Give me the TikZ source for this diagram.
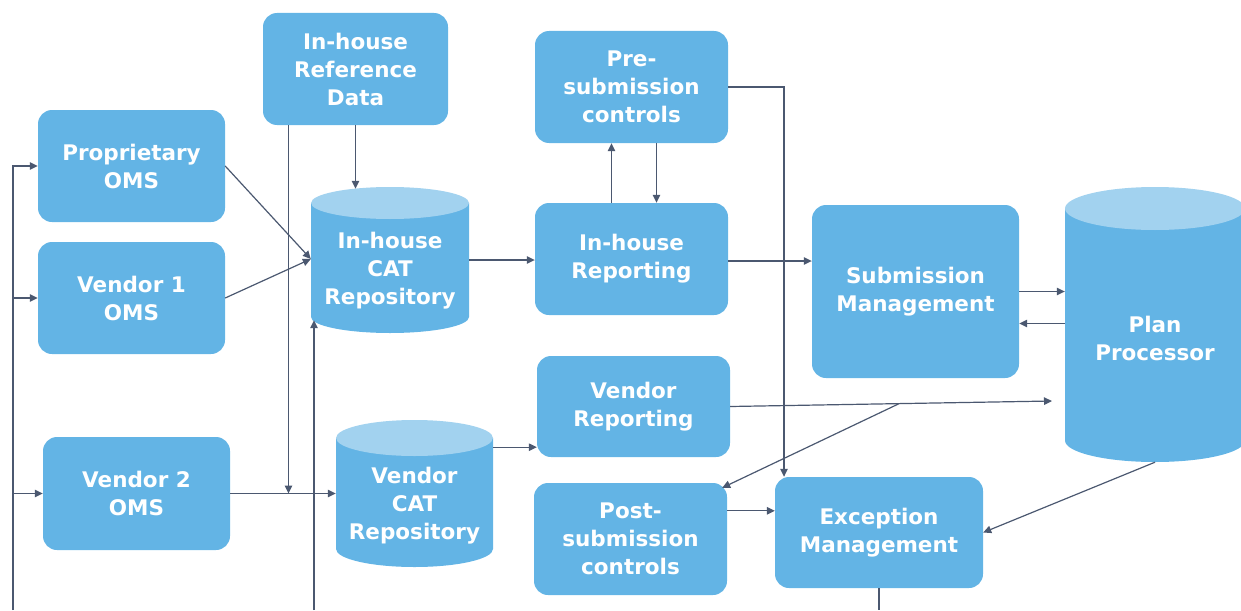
\documentclass[tikz,border=0pt]{standalone}
\usepackage{fontspec}
\setmainfont{DejaVu Sans}
\usepackage{xcolor}
\usepackage{tikz}
\usetikzlibrary{calc}
\usetikzlibrary{arrows.meta}

\definecolor{boxblue}{HTML}{63B4E5}
\definecolor{captop}{HTML}{A2D2EF}
\definecolor{wire}{HTML}{4B5870}

\begin{document}
\begin{tikzpicture}[x=1pt,y=-1pt]
% 1 = 1px of the sheet, y runs downwards
    \def\BOXW{187pt}
    \def\BOXH{112pt}
    \def\MIDW{193pt} %width of the middle column

    \tikzset{
      box/.style={fill=boxblue, rounded corners=14pt, text=white,
        align=center, inner sep=0pt,
        font=\fontsize{21.5}{28}\selectfont\bfseries},
      storetext/.style={text=white, align=center, inner sep=0pt,
        font=\fontsize{21.5}{28}\selectfont\bfseries},
      wirearrow/.style={draw=wire, line width=1.2pt,
        -{Triangle[length=8pt,width=7.5pt]}},
      wireline/.style={draw=wire, line width=1.2pt},
    }

    % STORAGE CYLINDER: name, centre x, top y, width, height, cap radius, text
    \def\storage#1#2#3#4#5#6#7{
      \fill[boxblue] ({#2-#4/2},{#3+#6}) -- ({#2-#4/2},{#3+#5-#6})
        arc[start angle=180, end angle=0, x radius=#4/2, y radius=#6]
        -- ({#2+#4/2},{#3+#6}) -- cycle;
      \fill[captop] (#2,{#3+#6}) ellipse [x radius=#4/2, y radius=#6];
      \node[storetext, minimum width=#4, minimum height={#5-#6}] (#1)
        at (#2,{#3+#6+(#5-#6)/2+3}) {#7};
    }

    \useasboundingbox (0,0) rectangle (1241,610);

    % LEFT COLUMN
    \node[box, minimum width=185pt, minimum height=\BOXH] (refdata)
        at (355.5,69) {In-house\\Reference\\Data};
    \node[box, minimum width=\BOXW, minimum height=\BOXH] (prop)
        at (131.5,166) {Proprietary\\OMS};
    \node[box, minimum width=\BOXW, minimum height=\BOXH] (vendone)
        at (131.5,298) {Vendor 1\\OMS};
    \node[box, minimum width=\BOXW, minimum height=113pt] (vendtwo)
        at (136.5,493.5) {Vendor 2\\OMS};

    % REPOSITORIES
    \storage{ihcat}{390}{187}{158}{146}{16}{In-house\\CAT\\Repository}
    \storage{vcat}{414.5}{420}{157}{147}{18}{Vendor\\CAT\\Repository}

    % MIDDLE COLUMN
    \node[box, minimum width=\MIDW, minimum height=\BOXH] (presub)
        at (631.5,87) {Pre-\\submission\\controls};
    \node[box, minimum width=\MIDW, minimum height=\BOXH] (ihrep)
        at (631.5,259) {In-house\\Reporting};
    \node[box, minimum width=\MIDW, minimum height=101pt] (vrep)
        at (633.5,406.5) {Vendor\\Reporting};
    \node[box, minimum width=\MIDW, minimum height=\BOXH] (postsub)
        at (630.5,539) {Post-\\submission\\controls};

    % RIGHT COLUMN
    \node[box, minimum width=207pt, minimum height=173pt] (subm)
        at (915.5,291.5) {Submission\\Management};
    \node[box, minimum width=208pt, minimum height=111pt] (excm)
        at (879,532.5) {Exception\\Management};
    \storage{planp}{1155}{187}{180}{275}{21.5}{Plan\\Processor}

    % loose ends and branch points
    \coordinate (bus) at (13,610);
    \coordinate (catfeed) at (314,610);
    \coordinate (excout) at (879,610);
    \coordinate (vreptip) at (1052,401);
    \coordinate (vsplit) at ($(vrep.east)!0.525!(vreptip)$);
    \coordinate (vrepin) at ($(vrep.south west)+(0,-10)$);
    \coordinate (excin) at ($(postsub.north east)+(0,28)$);
    \coordinate (catin) at ($(ihcat.west)+(0,-12)$);

    % FEED BUS ON THE LEFT
    \draw[wirearrow] (bus) |- (prop.west);
    \draw[wirearrow] (bus |- vendone.west) -- (vendone.west);
    \draw[wirearrow] (bus |- vendtwo.west) -- (vendtwo.west);

    % INTO THE IN-HOUSE REPOSITORY
    \draw[wirearrow] (prop.east) -- (catin);
    \draw[wirearrow] (vendone.east) -- (catin);
    \draw[wirearrow] (refdata.south) -- ($(refdata.south |- ihcat.north)+(0,-17)$);
    \draw[wirearrow] (catfeed) -- ($(catfeed |- ihcat.south)+(0,-16)$);

    % INTO THE VENDOR REPOSITORY
    \draw[wirearrow] ([xshift=-67pt]refdata.south)
        -- ([xshift=-67pt]refdata.south |- vendtwo.east);
    \draw[wirearrow] (vendtwo.east) -- (vcat.west |- vendtwo.east);

    % REPORTING
    \draw[wirearrow] ($(ihcat.east)+(0,-11)$) -- ($(ihcat.east -| ihrep.west)+(0,-11)$);
    \draw[wirearrow] (vrepin -| vcat.east) -- (vrepin);
    \draw[wirearrow] ([xshift=-20pt]ihrep.north)
        -- ([xshift=-20pt]ihrep.north |- presub.south);
    \draw[wirearrow] ([xshift=25pt]presub.south)
        -- ([xshift=25pt]presub.south |- ihrep.north);

    % SUBMISSION
    \draw[wirearrow] ($(ihrep.east)+(0,2)$) -- ($(ihrep.east -| subm.west)+(0,2)$);
    \draw[wirearrow] (subm.east) -- (subm.east -| planp.west);
    \draw[wirearrow] ([yshift=-32pt]subm.east -| planp.west)
        -- ([yshift=-32pt]subm.east);
    \draw[wirearrow] (vrep.east) -- (vreptip);
    \draw[wirearrow] (vsplit) -- ($(postsub.north east)+(-5,5)$);

    % EXCEPTIONS
    \draw[wirearrow] (presub.east) -| ([xshift=-95pt]excm.north);
    \draw[wirearrow] (excin) -- (excin -| excm.west);
    \draw[wirearrow] ($(planp.south)+(0,-3)$) -- (excm.east);
    \draw[wireline] (excm.south) -- (excout);

\end{tikzpicture}
\end{document}
